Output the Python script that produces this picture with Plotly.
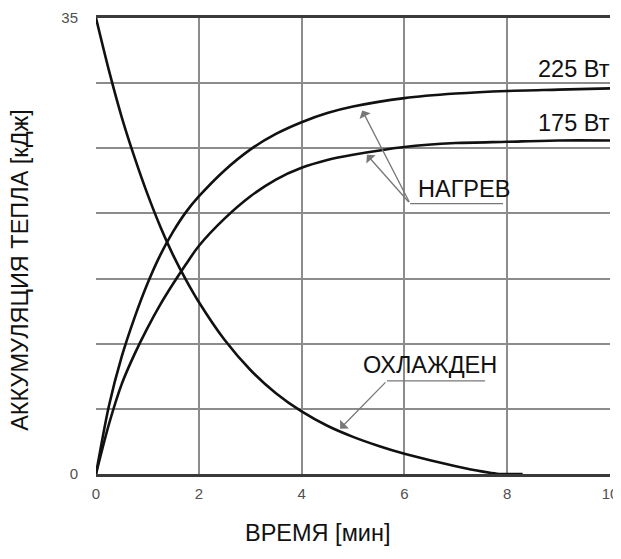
import plotly.graph_objects as go

# ---- data ----
time_heat = [0, 0.25, 0.5, 0.75, 1, 1.25, 1.5, 1.75, 2, 2.5, 3, 3.5, 4, 4.5, 5, 6, 7, 8, 9, 10]
heat_225 = [0, 5.2, 9.0, 12.0, 14.6, 16.8, 18.6, 20.1, 21.3, 23.3, 24.9, 26.1, 27.0, 27.7, 28.2, 28.85, 29.2, 29.4, 29.5, 29.6]
heat_175 = [0, 3.8, 6.9, 9.2, 11.2, 13.0, 14.6, 16.1, 17.5, 19.6, 21.3, 22.6, 23.5, 24.1, 24.5, 25.1, 25.4, 25.5, 25.6, 25.6]

time_cool = [0, 0.25, 0.5, 0.75, 1, 1.25, 1.5, 1.75, 2, 2.5, 3, 3.5, 4, 4.5, 5, 5.5, 6, 6.5, 7, 7.5, 7.8, 8.3]
cool = [35, 31.0, 27.4, 24.3, 21.5, 19.0, 16.8, 14.9, 13.2, 10.3, 8.0, 6.2, 4.8, 3.7, 2.85, 2.15, 1.55, 1.05, 0.6, 0.2, 0.02, 0]

x_ticks = [0, 2, 4, 6, 8, 10]
x_grid = [2, 4, 6, 8, 10]
y_ticks = [0, 35]
y_grid = [5, 10, 15, 20, 25, 30]

x_title = "ВРЕМЯ [мин]"
y_title = "АККУМУЛЯЦИЯ ТЕПЛА [кДж]"
label_225 = "225 Вт"
label_175 = "175 Вт"
label_heat = "НАГРЕВ"
label_cool = "ОХЛАЖДЕН"

FONT = "Liberation Sans, Arial, sans-serif"
TXT = 23.5

fig = go.Figure()
line_style = dict(color="#111111", width=2.6, shape="spline", smoothing=0.8)
fig.add_trace(go.Scatter(x=time_heat, y=heat_225, mode="lines", line=line_style, showlegend=False))
fig.add_trace(go.Scatter(x=time_heat, y=heat_175, mode="lines", line=line_style, showlegend=False))
fig.add_trace(go.Scatter(x=time_cool, y=cool, mode="lines", line=line_style, showlegend=False))

grid_col = "#8c8c8c"
tick_font = dict(family=FONT, size=15, color="#505050")
fig.update_xaxes(
    range=[0, 10], tickvals=x_ticks, showgrid=False, zeroline=False,
    showline=True, mirror=True, linecolor="#3a3a3a", linewidth=3,
    ticks="", tickfont=tick_font,
    minor=dict(tickvals=x_grid, showgrid=True, gridcolor=grid_col, gridwidth=1.8),
    ticklabelstandoff=4,
)
fig.update_yaxes(
    range=[0, 35], tickvals=y_ticks, showgrid=False, zeroline=False,
    showline=False, ticks="", tickfont=tick_font,
    minor=dict(tickvals=y_grid, showgrid=True, gridcolor=grid_col, gridwidth=1.8),
    ticklabelstandoff=17,
)

txt_font = dict(family=FONT, size=TXT, color="#111")
ann = []
# axis titles
ann.append(dict(text=x_title, xref="paper", yref="paper", x=0.43, y=-0.13,
                xanchor="center", yanchor="middle", showarrow=False, font=txt_font))
ann.append(dict(text=y_title, xref="paper", yref="paper", x=-0.1485, y=0.447,
                xanchor="center", yanchor="middle", textangle=-90, showarrow=False, font=txt_font))
# series labels
ann.append(dict(text=label_225, xref="paper", yref="paper", x=1.004, y=0.888,
                xanchor="right", yanchor="middle", showarrow=False, font=txt_font))
ann.append(dict(text=label_175, xref="paper", yref="paper", x=1.004, y=0.77,
                xanchor="right", yanchor="middle", showarrow=False, font=txt_font))
# heating callout
ann.append(dict(text=label_heat, x=7.16, y=21.9, xanchor="center", yanchor="middle",
                showarrow=False, font=txt_font))
arrow_col = "#777777"
for hx, hy in [(5.18, 27.9), (5.27, 24.5)]:
    ann.append(dict(text="", x=hx, y=hy, ax=6.11, ay=20.76, axref="x", ayref="y",
                    showarrow=True, arrowhead=1, arrowsize=1.6, arrowwidth=1.3, arrowcolor=arrow_col))
# cooling callout
ann.append(dict(text=label_cool, x=6.5, y=8.37, xanchor="center", yanchor="middle",
                showarrow=False, font=txt_font))
ann.append(dict(text="", x=4.75, y=3.48, ax=5.66, ay=7.15, axref="x", ayref="y",
                showarrow=True, arrowhead=1, arrowsize=1.6, arrowwidth=1.3, arrowcolor=arrow_col))

shapes = [
    dict(type="line", x0=6.11, x1=7.92, y0=20.76, y1=20.76, line=dict(color=arrow_col, width=1.3)),
    dict(type="line", x0=5.66, x1=7.57, y0=7.15, y1=7.15, line=dict(color=arrow_col, width=1.3)),
]

# page body has an 8px default margin, so margins are offset accordingly
fig.update_layout(
    width=621, height=559,
    margin=dict(l=88, r=19, t=10, b=93, autoexpand=False),
    paper_bgcolor="white", plot_bgcolor="white",
    annotations=ann, shapes=shapes,
    font=dict(family=FONT),
)

fig.write_html("out.html")
